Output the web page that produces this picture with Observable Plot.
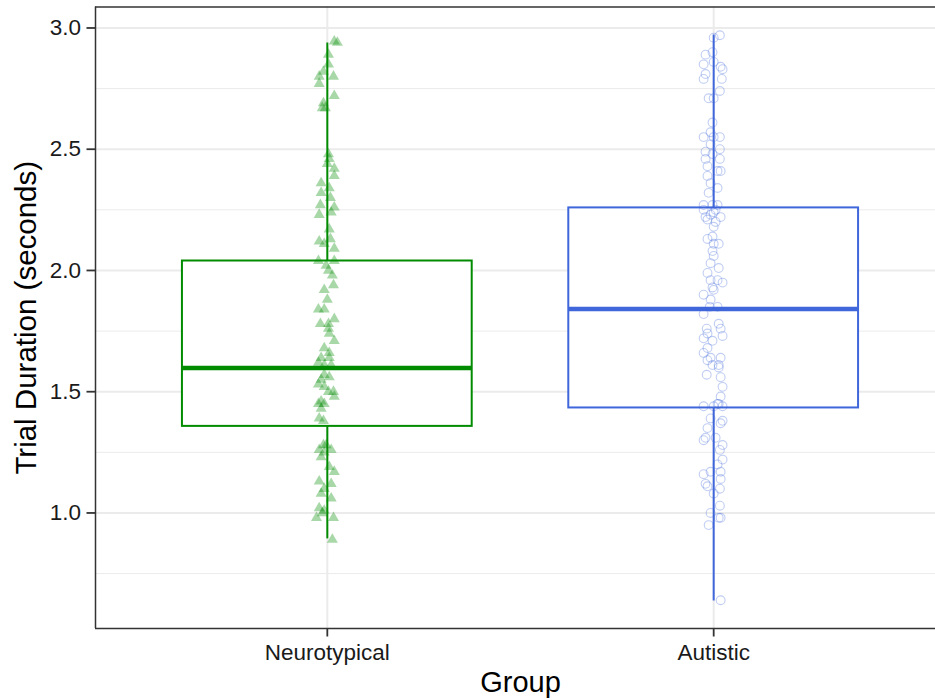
<!DOCTYPE html>
<html>
<head>
<meta charset="utf-8">
<script src="https://cdn.jsdelivr.net/npm/d3@7"></script>
<script src="https://cdn.jsdelivr.net/npm/@observablehq/plot@0.6"></script>
<style>
  html, body { margin: 0; padding: 0; background: #fff; overflow: hidden; }
  #chart { width: 935px; height: 700px; overflow: hidden; }
</style>
</head>
<body>
<div id="chart"></div>
<script>
// Groups and their colours
const groupNames = ["Neurotypical", "Autistic"];
const groupColors = ["#008B00", "#3F66DA"];

// Box summary per group (seconds)
const boxLower  = [0.893, 0.637];
const boxQ1     = [1.357, 1.433];
const boxMedian = [1.598, 1.841];
const boxQ3     = [2.039, 2.258];
const boxUpper  = [2.938, 2.971];

// Individual trial durations, Neurotypical group
const ntDuration = [2.94, 2.945, 2.89, 2.85, 2.82, 2.80, 2.80, 2.77, 2.72, 2.69,
  2.67, 2.67, 2.48, 2.46, 2.44, 2.42, 2.39, 2.36, 2.34, 2.32,
  2.30, 2.27, 2.26, 2.24, 2.23, 2.17, 2.13, 2.12, 2.11, 2.09,
  2.04, 2.04, 2.02, 2.00, 1.98, 1.94, 1.92, 1.88, 1.84, 1.84,
  1.80, 1.78, 1.78, 1.76, 1.74, 1.71, 1.68, 1.66, 1.64, 1.64,
  1.62, 1.61, 1.61, 1.57, 1.56, 1.55, 1.53, 1.52, 1.50, 1.50,
  1.48, 1.46, 1.45, 1.45, 1.43, 1.39, 1.38, 1.28, 1.28, 1.26,
  1.26, 1.25, 1.23, 1.19, 1.17, 1.13, 1.12, 1.10, 1.08, 1.06,
  1.02, 1.01, 1.00, 0.98, 0.98, 0.89];
// Horizontal jitter of each Neurotypical trial (group-axis units)
const ntJitter = [0.026, 0.018, 0.003, 0.003, -0.010, -0.021, 0.016, -0.021, 0.018, -0.010,
  -0.013, -0.005, 0.003, 0.005, 0, 0.018, 0.018, -0.016, 0.005, -0.016,
  0.008, -0.018, 0.018, 0.010, -0.021, 0.005, 0.008, -0.021, -0.008, 0.018,
  -0.023, 0.018, -0.003, 0.003, 0.013, 0.016, -0.008, 0, -0.023, -0.008,
  0.018, -0.018, 0.003, 0.003, 0.005, 0.018, -0.008, 0.005, -0.016, 0.005,
  -0.023, -0.008, 0.010, -0.008, 0.005, -0.016, -0.023, -0.008, 0.016, 0.003,
  0.018, -0.016, -0.023, -0.008, -0.016, -0.021, -0.010, -0.010, -0.003, -0.021,
  0.010, -0.008, -0.016, 0.005, 0.018, -0.021, 0.010, -0.008, -0.016, 0.010,
  -0.021, -0.008, -0.013, -0.028, 0.016, 0.013];

// Individual trial durations, Autistic group
const auDuration = [2.97, 2.96, 2.90, 2.89, 2.86, 2.85, 2.84, 2.83, 2.81, 2.79,
  2.79, 2.74, 2.71, 2.71, 2.61, 2.57, 2.55, 2.55, 2.55, 2.52,
  2.50, 2.49, 2.48, 2.46, 2.46, 2.43, 2.41, 2.41, 2.39, 2.36,
  2.34, 2.32, 2.27, 2.27, 2.27, 2.25, 2.25, 2.24, 2.23, 2.22,
  2.22, 2.21, 2.20, 2.18, 2.14, 2.13, 2.11, 2.11, 2.08, 2.06,
  2.03, 2.01, 1.99, 1.96, 1.96, 1.95, 1.93, 1.92, 1.90, 1.88,
  1.85, 1.85, 1.82, 1.78, 1.76, 1.76, 1.74, 1.73, 1.72, 1.71,
  1.68, 1.66, 1.64, 1.64, 1.63, 1.61, 1.61, 1.60, 1.57, 1.56,
  1.52, 1.48, 1.45, 1.45, 1.44, 1.44, 1.44, 1.39, 1.38, 1.37,
  1.35, 1.31, 1.31, 1.30, 1.28, 1.26, 1.22, 1.20, 1.17, 1.17,
  1.16, 1.14, 1.12, 1.11, 1.10, 1.08, 1.03, 1.00, 0.98, 0.98,
  0.95, 0.64];
// Horizontal jitter of each Autistic trial (group-axis units)
const auJitter = [0.016, 0, -0.003, -0.021, 0, -0.026, 0.018, 0.023, -0.021, -0.026,
  0.021, 0.016, -0.013, 0, -0.003, -0.008, -0.026, 0, 0.016, -0.008,
  0.016, -0.021, -0.003, -0.021, 0.016, -0.016, 0.018, 0.010, -0.016, -0.008,
  0.010, -0.013, -0.026, -0.003, 0.010, 0.005, -0.026, 0, -0.008, 0.018,
  -0.021, -0.016, 0.005, 0, -0.003, -0.016, 0.013, 0, -0.003, 0,
  -0.008, 0.013, -0.016, -0.008, 0.010, 0.023, -0.003, 0, -0.026, -0.008,
  -0.010, 0.010, -0.026, 0.013, -0.018, 0.018, -0.016, 0.023, -0.026, -0.003,
  -0.016, -0.026, -0.008, 0.018, -0.016, -0.003, 0.013, 0.013, -0.018, 0.018,
  0.023, 0.018, 0.013, 0.010, -0.026, 0, 0.023, -0.008, 0.023, 0.018,
  -0.016, -0.021, 0.005, -0.026, 0.023, 0.016, 0.023, 0.010, -0.008, 0.018,
  -0.026, 0.018, -0.021, -0.016, 0.016, 0, 0.016, -0.008, 0.018, 0.013,
  -0.013, 0.018];

// Axis ticks
const yTicks = [1.0, 1.5, 2.0, 2.5, 3.0];
const yMinorTicks = [0.75, 1.25, 1.75, 2.25, 2.75];
const xTicks = [1, 2];

// Tables built from the arrays above
const boxes = groupNames.map((name, i) => ({
  pos: i + 1, name,
  lower: boxLower[i], q1: boxQ1[i], median: boxMedian[i], q3: boxQ3[i], upper: boxUpper[i]
}));
const ntPoints = ntDuration.map((v, i) => ({x: 1 + ntJitter[i], y: v}));
const auPoints = auDuration.map((v, i) => ({x: 2 + auJitter[i], y: v}));

const yDomain = [0.5235, 3.0865];
const xDomain = [0.4, 2.6];
const halfBox = 0.375;
const gridColor = "#EBEBEB";
const borderColor = "#333333";
const font = "'Liberation Sans', Arial, sans-serif";

const chart = Plot.plot({
  width: 935,
  height: 700,
  marginLeft: 95,
  marginRight: 0,
  marginTop: 6.5,
  marginBottom: 72,
  style: {fontFamily: font, background: "#fff", color: "#1a1a1a"},
  x: {domain: xDomain, range: [95, 945]},
  y: {domain: yDomain},
  color: {domain: groupNames, range: groupColors},
  marks: [
    // background grid
    Plot.gridY(yMinorTicks, {stroke: gridColor, strokeOpacity: 1, strokeWidth: 1}),
    Plot.gridY(yTicks, {stroke: gridColor, strokeOpacity: 1, strokeWidth: 2}),
    Plot.gridX(xTicks, {stroke: gridColor, strokeOpacity: 1, strokeWidth: 2}),
    // whiskers
    Plot.ruleX(boxes, {x: "pos", y1: "lower", y2: "q1", stroke: "name", strokeWidth: 2}),
    Plot.ruleX(boxes, {x: "pos", y1: "q3", y2: "upper", stroke: "name", strokeWidth: 2}),
    // boxes
    Plot.rect(boxes, {
      x1: d => d.pos - halfBox, x2: d => d.pos + halfBox,
      y1: "q1", y2: "q3", fill: "white", stroke: "name", strokeWidth: 2
    }),
    // medians
    Plot.ruleY(boxes, {
      y: "median", x1: d => d.pos - halfBox, x2: d => d.pos + halfBox,
      stroke: "name", strokeWidth: 4.5
    }),
    // jittered trials
    Plot.dot(ntPoints, {
      x: "x", y: "y", symbol: "triangle", r: 4.1,
      fill: groupColors[0], fillOpacity: 0.34, stroke: "none"
    }),
    Plot.dot(auPoints, {
      x: "x", y: "y", r: 4.4,
      fill: "none", stroke: groupColors[1], strokeOpacity: 0.32, strokeWidth: 1.1
    }),
    // panel border (left, top, bottom)
    Plot.ruleX([xDomain[0]], {stroke: borderColor, strokeWidth: 1.5}),
    Plot.ruleY(yDomain, {stroke: borderColor, strokeWidth: 1.5}),
    // axes
    Plot.axisY(yTicks, {
      tickFormat: d3.format(".1f"), tickSize: 8.5, tickPadding: 6,
      fontSize: 22.5, stroke: borderColor, strokeWidth: 1.8, fill: "#1a1a1a", label: null
    }),
    Plot.axisX(xTicks, {
      tickFormat: d => groupNames[d - 1], tickSize: 8.5, tickPadding: 7,
      fontSize: 22.5, stroke: borderColor, strokeWidth: 1.8, fill: "#1a1a1a", label: null
    }),
    // axis titles
    Plot.text(["Trial Duration (seconds)"], {
      text: d => d, frameAnchor: "left", rotate: -90, dx: -69,
      fontSize: 29.5, fill: "#000", textAnchor: "middle"
    }),
    Plot.text(["Group"], {
      x: [1.5], text: d => d, frameAnchor: "bottom", dy: 63,
      fontSize: 29, fill: "#000", textAnchor: "middle"
    })
  ]
});

document.getElementById("chart").appendChild(chart);
</script>
</body>
</html>
